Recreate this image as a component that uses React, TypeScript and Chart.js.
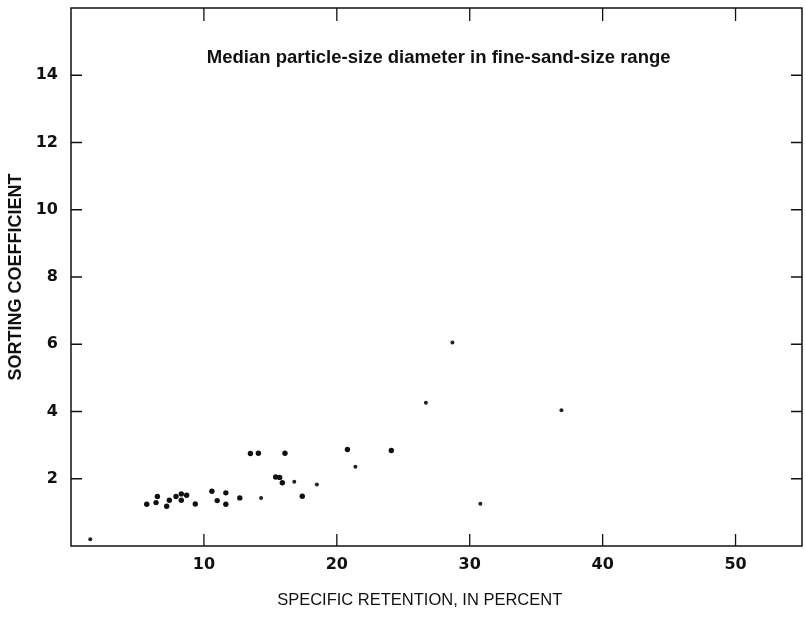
import React, { useEffect, useRef } from "react";
import { Chart, registerables } from "chart.js";

Chart.register(...registerables);

// Specific retention (%) vs sorting coefficient — clear dots
const retentionMain = [5.7, 6.4, 6.5, 7.2, 7.4, 7.9, 8.3, 8.3, 8.7, 9.35, 10.6, 11.0, 11.65, 11.65, 12.7, 13.5, 14.1, 15.4, 15.7, 15.9, 16.1, 17.4, 20.8, 24.1];
const sortingMain = [1.24, 1.29, 1.47, 1.18, 1.36, 1.47, 1.55, 1.36, 1.51, 1.25, 1.63, 1.35, 1.58, 1.24, 1.43, 2.75, 2.76, 2.05, 2.04, 1.88, 2.76, 1.48, 2.87, 2.84];

// faint / small dots
const retentionFaint = [1.45, 14.3, 16.8, 18.5, 21.4, 26.7, 28.7, 30.8, 36.9];
const sortingFaint = [0.2, 1.43, 1.91, 1.83, 2.36, 4.26, 6.05, 1.26, 4.04];

const xTicks = [10, 20, 30, 40, 50];
const yTicks = [2, 4, 6, 8, 10, 12, 14];

const noteText = "Median particle-size diameter in fine-sand-size range";
const xTitle = "SPECIFIC RETENTION, IN PERCENT";
const yTitle = "SORTING COEFFICIENT";

const framePlugin = {
  id: "frame",
  afterDraw(chart: any) {
    const { ctx, chartArea } = chart;
    const { left, right, top, bottom } = chartArea;
    const xs = chart.scales.x;
    const ys = chart.scales.y;
    ctx.save();
    ctx.strokeStyle = "#111";
    ctx.lineWidth = 1.5;
    ctx.strokeRect(left, top, right - left, bottom - top);
    ctx.lineWidth = 1.3;
    ctx.beginPath();
    for (const v of xTicks) {
      const px = xs.getPixelForValue(v);
      ctx.moveTo(px, bottom);
      ctx.lineTo(px, bottom - 12);
      ctx.moveTo(px, top);
      ctx.lineTo(px, top + 13);
    }
    for (const v of yTicks) {
      const py = ys.getPixelForValue(v);
      ctx.moveTo(left, py);
      ctx.lineTo(left + 11, py);
      ctx.moveTo(right, py);
      ctx.lineTo(right - 11, py);
    }
    ctx.stroke();
    ctx.fillStyle = "#111";
    ctx.textAlign = "center";
    ctx.textBaseline = "middle";
    ctx.font = "bold 18.5px 'Liberation Sans', Arial, sans-serif";
    ctx.fillText(noteText, left + (right - left) * 0.503, top + 50);
    ctx.font = "16.5px 'Liberation Sans', Arial, sans-serif";
    ctx.fillText(xTitle, left + (right - left) * 0.477, bottom + 54);
    ctx.restore();
  },
};

export default function App() {
  const ref = useRef<HTMLCanvasElement | null>(null);

  useEffect(() => {
    if (!ref.current) return;
    const chart = new Chart(ref.current, {
      type: "scatter",
      data: {
        datasets: [
          {
            data: retentionMain.map((x, i) => ({ x, y: sortingMain[i] })),
            backgroundColor: "#111",
            borderColor: "#111",
            pointRadius: 2.7,
            borderWidth: 0,
          },
          {
            data: retentionFaint.map((x, i) => ({ x, y: sortingFaint[i] })),
            backgroundColor: "#222",
            borderColor: "#222",
            pointRadius: 2,
            borderWidth: 0,
          },
        ],
      },
      options: {
        animation: false,
        responsive: true,
        maintainAspectRatio: false,
        layout: { padding: { top: 8, right: 3, left: 0, bottom: 0 } },
        plugins: {
          legend: { display: false },
          tooltip: { enabled: false },
          title: { display: false },
        },
        scales: {
          x: {
            type: "linear",
            min: 0,
            max: 55,
            grid: { display: false, drawTicks: false },
            border: { display: false },
            afterBuildTicks: (s: any) => {
              s.ticks = xTicks.map((v) => ({ value: v }));
            },
            afterFit: (s: any) => {
              s.height = 73;
              s.paddingLeft = 0;
              s.paddingRight = 0;
            },
            ticks: {
              padding: 9,
              color: "#111",
              font: { family: "'DejaVu Sans', sans-serif", size: 16, weight: "bold" },
              maxRotation: 0,
            },
            title: { display: false },
          },
          y: {
            type: "linear",
            min: 0,
            max: 16,
            grid: { display: false, drawTicks: false },
            border: { display: false },
            afterBuildTicks: (s: any) => {
              s.ticks = yTicks.map((v) => ({ value: v }));
            },
            afterFit: (s: any) => {
              s.width = 71;
              s.paddingTop = 0;
              s.paddingBottom = 0;
            },
            ticks: {
              padding: 13,
              color: "#111",
              font: { family: "'DejaVu Sans', sans-serif", size: 16, weight: "bold" },
            },
            title: {
              display: true,
              text: yTitle,
              color: "#111",
              font: { family: "'Liberation Sans', Arial, sans-serif", size: 18, weight: "bold" },
              padding: { top: 5, bottom: 0 },
            },
          },
        },
      },
      plugins: [framePlugin],
    });
    return () => chart.destroy();
  }, []);

  return (
    <div style={{ position: "fixed", left: 0, top: 0, width: 806, height: 619, background: "#fff" }}>
      <canvas ref={ref} />
    </div>
  );
}
